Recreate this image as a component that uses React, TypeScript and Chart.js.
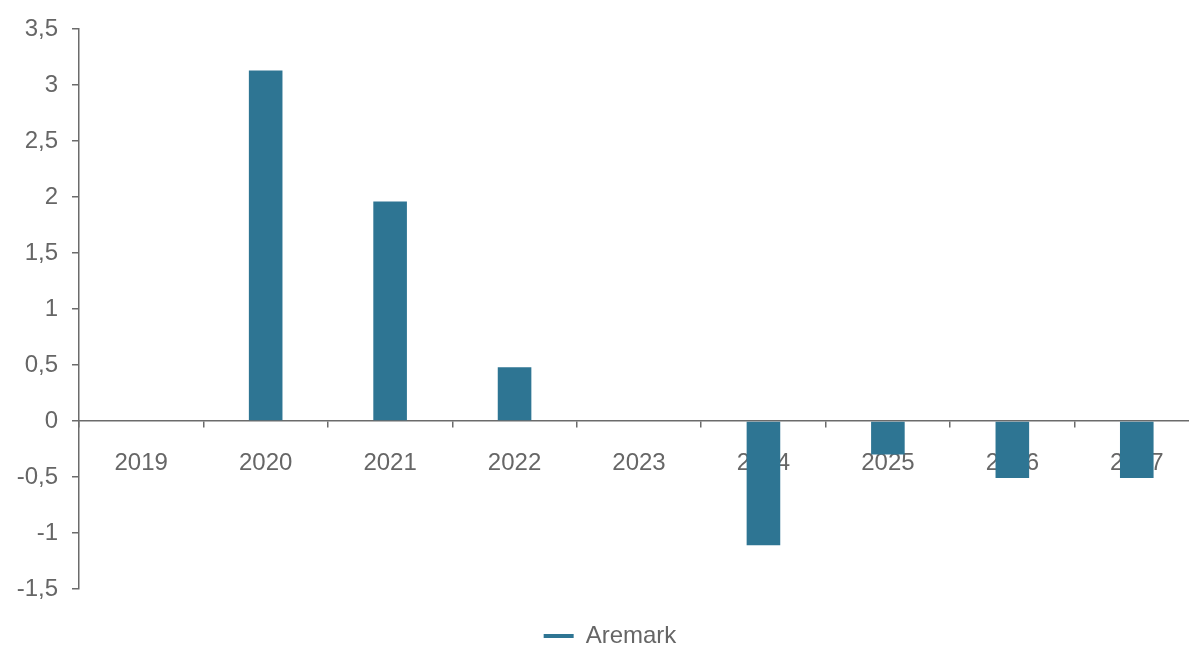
import React, { useEffect, useRef } from "react";
import { Chart, registerables } from "chart.js";

Chart.register(...registerables);

const categories = ["2019", "2020", "2021", "2022", "2023", "2024", "2025", "2026", "2027"];
const seriesName = "Aremark";
const values = [0, 3.13, 1.96, 0.48, 0, -1.11, -0.3, -0.51, -0.51];
const yMin = -1.5;
const yMax = 3.5;
const yStep = 0.5;

const BAR_COLOR = "#2e7593";
const TEXT_COLOR = "#666666";
const AXIS_COLOR = "#6b6b6b";
const FONT = "'Liberation Sans', Arial, sans-serif";

export default function App() {
  const ref = useRef<HTMLCanvasElement | null>(null);
  useEffect(() => {
    if (!ref.current) return;
    const chart = new Chart(ref.current, {
      type: "bar",
      data: {
        labels: categories,
        datasets: [
          {
            label: seriesName,
            data: values,
            backgroundColor: BAR_COLOR,
            borderColor: BAR_COLOR,
            borderWidth: 0,
            barPercentage: 0.27,
            categoryPercentage: 1,
            yAxisID: "y",
          },
        ],
      },
      options: {
        animation: false,
        responsive: true,
        maintainAspectRatio: false,
        layout: { padding: { top: 29, left: 0, right: 0, bottom: 0 } },
        plugins: {
          tooltip: { enabled: false },
          legend: {
            position: "bottom",
            title: { display: true, text: " ", font: { size: 9, lineHeight: 1 }, padding: { top: 7, bottom: 7 } },
            labels: {
              boxWidth: 30,
              boxHeight: 4,
              padding: 12,
              color: TEXT_COLOR,
              font: { family: FONT, size: 24 },
            },
          },
        },
        scales: {
          x: {
            position: { y: 0 } as any,
            grid: {
              offset: true,
              drawOnChartArea: false,
              drawTicks: true,
              tickLength: 6,
              color: AXIS_COLOR,
              lineWidth: 1.5,
            },
            border: { display: true, color: AXIS_COLOR, width: 1.5 },
            ticks: {
              color: TEXT_COLOR,
              font: { family: FONT, size: 24 },
              padding: 22,
              maxRotation: 0,
            },
          },
          y: {
            position: "left",
            min: yMin,
            max: yMax,
            afterFit: (scale: any) => {
              scale.width = 79;
            },
            grid: {
              drawOnChartArea: false,
              drawTicks: true,
              tickLength: 7,
              color: AXIS_COLOR,
              lineWidth: 1.5,
            },
            border: { display: true, color: AXIS_COLOR, width: 1.5 },
            ticks: {
              stepSize: yStep,
              color: TEXT_COLOR,
              font: { family: FONT, size: 24 },
              padding: 14,
              callback: (v: any) => String(Number(v)).replace(".", ","),
            },
          },
          yRight: {
            position: "right",
            display: true,
            afterFit: (scale: any) => {
              scale.width = 21;
            },
            grid: { display: false, drawTicks: false },
            border: { display: false },
            ticks: { display: false },
          },
        },
      },
    });
    return () => chart.destroy();
  }, []);

  return (
    <div style={{ position: "fixed", left: 0, top: 0, width: 1189, height: 645, overflow: "hidden", background: "#fff" }}>
      <div style={{ position: "relative", width: 1220, height: 658 }}>
        <canvas ref={ref} />
      </div>
    </div>
  );
}
